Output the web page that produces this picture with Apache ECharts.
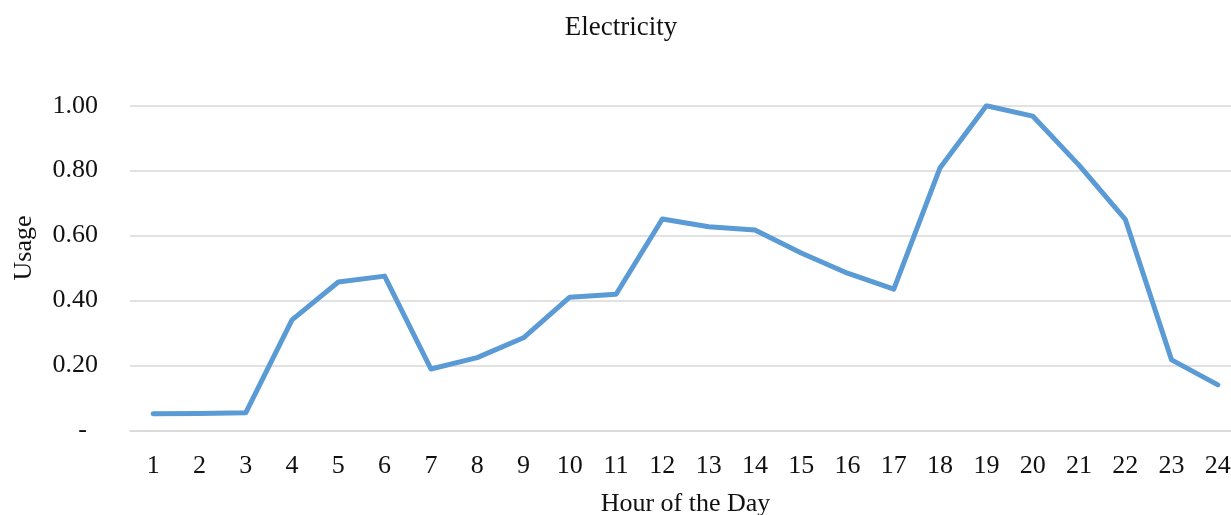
<!DOCTYPE html>
<html>
<head>
<meta charset="utf-8">
<script src="https://cdn.jsdelivr.net/npm/echarts@6/dist/echarts.min.js"></script>
<style>
  html, body { margin: 0; padding: 0; overflow: hidden; background: #ffffff; }
  #chart { width: 1242px; height: 515px; }
</style>
</head>
<body>
<div id="chart"></div>
<script>
// Hourly electricity usage profile (normalised, peak = 1.00)
const hours = ['1','2','3','4','5','6','7','8','9','10','11','12','13','14','15','16','17','18','19','20','21','22','23','24'];
const usage = [0.051, 0.052, 0.054, 0.340, 0.457, 0.475, 0.189, 0.224, 0.285, 0.410, 0.419, 0.651,
               0.627, 0.617, 0.546, 0.484, 0.435, 0.809, 1.000, 0.968, 0.817, 0.650, 0.217, 0.140];
const yTicks = { min: 0, max: 1, step: 0.2 };

const FONT = '"Liberation Serif", "DejaVu Serif", serif';
const SIZE = 26;
const chart = echarts.init(document.getElementById('chart'), null, { renderer: 'canvas' });

chart.setOption({
  animation: false,
  backgroundColor: '#ffffff',
  title: {
    text: 'Electricity',
    left: 'center',
    top: 9,
    textStyle: { fontFamily: FONT, fontSize: 27, fontWeight: 'normal', color: '#111111' }
  },
  grid: { left: 130, right: 1, top: 105.7, bottom: 84.7, outerBoundsMode: 'none' },
  xAxis: {
    type: 'category',
    data: hours,
    boundaryGap: true,
    name: 'Hour of the Day',
    nameLocation: 'middle',
    nameGap: 61,
    nameTextStyle: { fontFamily: FONT, fontSize: SIZE, color: '#111111' },
    axisLine: { lineStyle: { color: '#d9d9d9', width: 1.5 } },
    axisTick: { show: false },
    axisLabel: { fontFamily: FONT, fontSize: SIZE, color: '#111111', margin: 23 }
  },
  yAxis: {
    type: 'value',
    min: yTicks.min,
    max: yTicks.max,
    interval: yTicks.step,
    axisLine: { show: false },
    axisTick: { show: false },
    splitLine: { lineStyle: { color: '#d9d9d9', width: 1.5 } },
    axisLabel: {
      fontFamily: FONT, fontSize: SIZE, color: '#111111', margin: 32,
      formatter: v => v === 0 ? '{d|-}' : v.toFixed(2),
      rich: { d: { fontFamily: FONT, fontSize: SIZE, color: '#111111', padding: [0, 11, 0, 0] } }
    }
  },
  graphic: [{
    type: 'text',
    rotation: Math.PI / 2,
    x: 24, y: 248,
    style: {
      text: 'Usage',
      font: SIZE + 'px ' + FONT,
      fill: '#111111',
      textAlign: 'center',
      textVerticalAlign: 'middle'
    }
  }],
  series: [{
    type: 'line',
    data: usage,
    showSymbol: false,
    symbol: 'none',
    lineStyle: { color: '#5b9bd5', width: 5, cap: 'round', join: 'round' }
  }]
});
</script>
</body>
</html>
